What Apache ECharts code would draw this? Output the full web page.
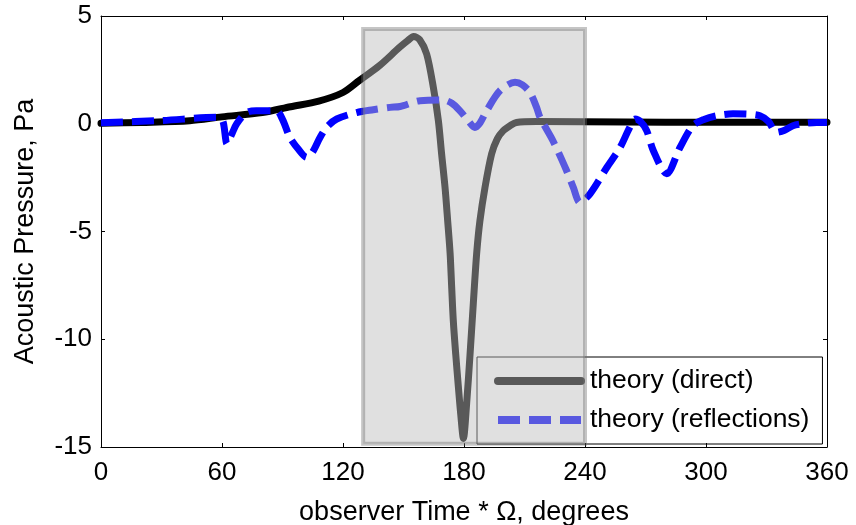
<!DOCTYPE html>
<html>
<head>
<meta charset="utf-8">
<script src="https://cdn.jsdelivr.net/npm/echarts@6/dist/echarts.min.js"></script>
<style>
  html, body { margin: 0; padding: 0; background: #fff; }
  #chart { width: 856px; height: 525px; }
</style>
</head>
<body>
<div id="chart"></div>
<script>
// ---- data ----
const xTicks = [0, 60, 120, 180, 240, 300, 360];
const yTicks = [-15, -10, -5, 0, 5];

const directName = 'theory (direct)';
const directX = [0, 20, 44, 60, 80, 94, 108, 120, 128, 138, 148, 152, 155, 158, 161.5, 164.8, 167.3, 168.9, 170.6, 171.9, 173.1, 173.9, 174.7, 175.9, 177.2, 178.4, 179.7, 181.3, 183, 184.6, 186.3, 187.9, 190.4, 193.7, 196.5, 199.5, 203, 206, 216, 260, 300, 360];
const directY = [0.02, 0.06, 0.14, 0.32, 0.52, 0.79, 1.05, 1.45, 2.0, 2.69, 3.54, 3.85, 4.05, 3.9, 3.23, 1.69, 0.14, -1.4, -2.96, -4.5, -6.0, -7.6, -9.14, -10.7, -12.2, -13.5, -14.6, -13.0, -10.7, -8.36, -6.0, -4.5, -2.96, -1.4, -0.7, -0.32, -0.08, 0.06, 0.1, 0.08, 0.07, 0.07];

const reflName = 'theory (reflections)';
const reflX = [0, 30, 58, 60.5, 62.5, 65, 67.3, 72.2, 77, 87, 90, 93.7, 98, 102, 105, 108.6, 112, 116.9, 126.8, 135, 143.3, 148.3, 158.2, 169.7, 174, 178, 182.1, 185.4, 188, 191.2, 197.8, 205.3, 209, 212.7, 216, 217.7, 224.1, 230.9, 234.2, 237.5, 242.5, 250.8, 257.4, 262, 264.8, 267.5, 270.6, 273.9, 280.5, 287.1, 293.5, 299, 305.3, 313.4, 320, 326.8, 331, 335, 339, 343.1, 348, 354.9, 360];
const reflY = [0.05, 0.15, 0.3, 0.1, -0.93, -0.45, 0.0, 0.52, 0.6, 0.6, 0.2, -0.64, -1.2, -1.56, -1.3, -0.64, -0.15, 0.22, 0.52, 0.65, 0.76, 0.8, 1.07, 1.1, 0.95, 0.6, 0.14, -0.17, 0.05, 0.6, 1.53, 1.92, 1.8, 1.45, 0.76, 0.29, -0.79, -2.18, -2.95, -3.65, -3.25, -2.03, -1.1, -0.2, 0.22, 0.1, -0.32, -1.25, -2.32, -1.1, -0.09, 0.2, 0.37, 0.46, 0.45, 0.37, 0.1, -0.4, -0.3, -0.09, 0.0, 0.06, 0.06];

// shaded window: [xStart, xEnd, yBottom, yTop]
const windowBox = [130, 240, -14.85, 4.4];

// ---- chart ----
const FONT = "'Liberation Sans', Arial, sans-serif";
const pairs = (xs, ys) => xs.map((x, i) => [x, ys[i]]);

const chart = echarts.init(document.getElementById('chart'), null, { renderer: 'canvas' });

const axisCommon = {
  type: 'value',
  axisLine: { show: true, onZero: false, lineStyle: { color: '#000', width: 1 } },
  axisTick: { show: true, inside: true, length: 4, lineStyle: { color: '#000' } },
  splitLine: { show: false },
};

chart.setOption({
  animation: false,
  backgroundColor: '#fff',
  grid: { left: 101, right: 29, top: 16, bottom: 78, containLabel: false, outerBoundsMode: 'none' },
  legend: {
    data: [directName, reflName],
    orient: 'vertical',
    left: 477,
    top: 357,
    z: 1,
    padding: [9, 13, 9, 17],
    itemGap: 9,
    itemWidth: 83,
    itemHeight: 14,
    borderColor: '#000',
    borderWidth: 1,
    backgroundColor: 'transparent',
    itemStyle: { opacity: 0 },
    lineStyle: { width: 8 },
    textStyle: { fontFamily: FONT, fontSize: 26.5, color: '#000', lineHeight: 30, padding: [0, 0, 0, 4] },
  },
  xAxis: [
    Object.assign({}, axisCommon, {
      position: 'bottom', min: xTicks[0], max: xTicks[xTicks.length - 1], interval: 60,
      name: 'observer Time * \u03A9, degrees', nameLocation: 'middle', nameGap: 52,
      nameTextStyle: { fontFamily: FONT, fontSize: 27, color: '#000' },
      axisLabel: { show: true, margin: 13, fontFamily: FONT, fontSize: 26, color: '#000' },
    }),
    Object.assign({}, axisCommon, {
      position: 'top', min: xTicks[0], max: xTicks[xTicks.length - 1], interval: 60,
      axisLabel: { show: false },
    }),
  ],
  yAxis: [
    Object.assign({}, axisCommon, {
      position: 'left', min: yTicks[0], max: yTicks[yTicks.length - 1], interval: 5,
      name: 'Acoustic Pressure, Pa', nameLocation: 'middle', nameGap: 62,
      nameTextStyle: { fontFamily: FONT, fontSize: 27, color: '#000' },
      axisLabel: { show: true, margin: 9, fontFamily: FONT, fontSize: 26, color: '#000' },
    }),
    Object.assign({}, axisCommon, {
      position: 'right', min: yTicks[0], max: yTicks[yTicks.length - 1], interval: 5,
      axisLabel: { show: false },
    }),
  ],
  series: [
    {
      name: directName,
      type: 'line',
      z: 2,
      data: pairs(directX, directY),
      showSymbol: false,
      symbol: 'none',
      smooth: 0.3,
      color: '#000',
      lineStyle: { color: '#000', width: 7, cap: 'round', join: 'round' },
    },
    {
      name: reflName,
      type: 'line',
      z: 2,
      data: pairs(reflX, reflY),
      showSymbol: false,
      symbol: 'none',
      smooth: 0.3,
      color: '#0000ff',
      lineStyle: { color: '#0000ff', width: 7, type: [22, 9], cap: 'butt', join: 'round' },
    },
    {
      name: 'window',
      type: 'custom',
      z: 3,
      silent: true,
      data: [windowBox],
      renderItem: function (params, api) {
        const p0 = api.coord([api.value(0), api.value(3)]);
        const p1 = api.coord([api.value(1), api.value(2)]);
        return {
          type: 'rect',
          shape: { x: p0[0], y: p0[1], width: p1[0] - p0[0], height: p1[1] - p0[1] },
          style: { fill: 'rgba(190,190,190,0.47)', stroke: 'rgba(110,110,110,0.4)', lineWidth: 4 },
        };
      },
    },
  ],
});
</script>
</body>
</html>
